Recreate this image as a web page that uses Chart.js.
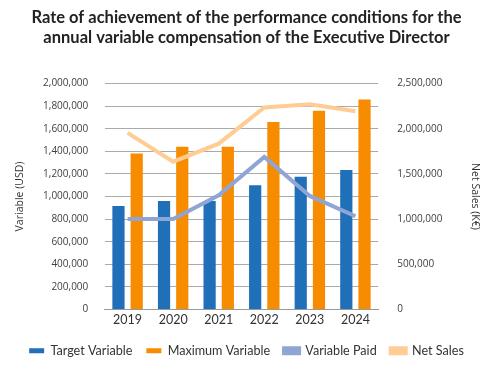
<!DOCTYPE html>
<html>
<head>
<meta charset="utf-8">
<script src="https://cdn.jsdelivr.net/npm/chart.js@4.4.0/dist/chart.umd.min.js"></script>
<style>
  html, body { margin: 0; padding: 0; background: #fff; }
  #wrap { width: 487px; height: 368px; }
</style>
</head>
<body>
<div id="wrap"><canvas id="chart"></canvas></div>
<script>
const years = ['2019', '2020', '2021', '2022', '2023', '2024'];
const targetVariable = [915000, 960000, 960000, 1100000, 1175000, 1235000];
const maximumVariable = [1380000, 1440000, 1440000, 1660000, 1760000, 1860000];
const variablePaid = [800000, 800000, 1010000, 1350000, 1005000, 825000];
const netSales = [1955000, 1635000, 1835000, 2235000, 2270000, 2195000];

const fmt = v => Number(v).toLocaleString('en-US');
const font = 'Lato, "Noto Sans", sans-serif';
const axisFont = '"Open Sans", "Noto Sans", sans-serif';

new Chart(document.getElementById('chart'), {
    data: {
        labels: years,
        datasets: [
            {
                type: 'bar', label: 'Target Variable', data: targetVariable,
                backgroundColor: '#1f70b8', yAxisID: 'y', order: 3,
                categoryPercentage: 0.8, barPercentage: 0.67
            },
            {
                type: 'bar', label: 'Maximum Variable', data: maximumVariable,
                backgroundColor: '#f78c00', yAxisID: 'y', order: 4,
                categoryPercentage: 0.8, barPercentage: 0.67
            },
            {
                type: 'line', label: 'Variable Paid', data: variablePaid,
                borderColor: '#8fa5d3', backgroundColor: '#8fa5d3', borderWidth: 4,
                pointRadius: 0, tension: 0, yAxisID: 'y', order: 2
            },
            {
                type: 'line', label: 'Net Sales', data: netSales,
                borderColor: '#ffcc93', backgroundColor: '#ffcc93', borderWidth: 4,
                pointRadius: 0, tension: 0, yAxisID: 'y1', order: 1
            }
        ]
    },
    options: {
        responsive: true,
        maintainAspectRatio: false,
        animation: false,
        layout: { padding: { left: 8, right: 2, top: 2, bottom: 1 } },
        plugins: {
            title: {
                display: true,
                text: ['Rate of achievement of the performance conditions for the',
                       'annual variable compensation of the Executive Director'],
                color: '#222',
                font: { family: font, size: 16.5, weight: 'bold', lineHeight: 1.2 },
                padding: { top: 6, bottom: 36 }
            },
            legend: {
                position: 'bottom',
                labels: {
                    color: '#333',
                    font: { family: font, size: 12.6 },
                    boxWidth: 15, boxHeight: 5,
                    padding: 14,
                    sort: (a, b) => a.datasetIndex - b.datasetIndex
                }
            },
            tooltip: { enabled: false }
        },
        scales: {
            x: {
                grid: { display: false, drawTicks: false },
                border: { display: true, color: '#999' },
                ticks: { color: '#333', font: { family: font, size: 12.5 }, padding: 3 }
            },
            y: {
                position: 'left',
                min: 0, max: 2000000,
                ticks: { stepSize: 200000, callback: fmt, color: '#404040', font: { family: axisFont, size: 10 }, padding: 16.5 },
                grid: { color: '#aaa', drawTicks: false },
                border: { display: false },
                title: {
                    display: true, text: 'Variable (USD)', color: '#333',
                    font: { family: axisFont, size: 10.5 }, padding: { top: 6, bottom: 0 }
                }
            },
            y1: {
                position: 'right',
                min: 0, max: 2500000,
                ticks: { stepSize: 500000, callback: fmt, color: '#404040', font: { family: axisFont, size: 10 }, padding: 19 },
                grid: { drawOnChartArea: false, drawTicks: false },
                border: { display: false },
                title: {
                    display: true, text: 'Net Sales (K€)', color: '#333',
                    font: { family: axisFont, size: 10.5 }, padding: { top: 4, bottom: 7 }
                }
            }
        }
    }
});
</script>
</body>
</html>
